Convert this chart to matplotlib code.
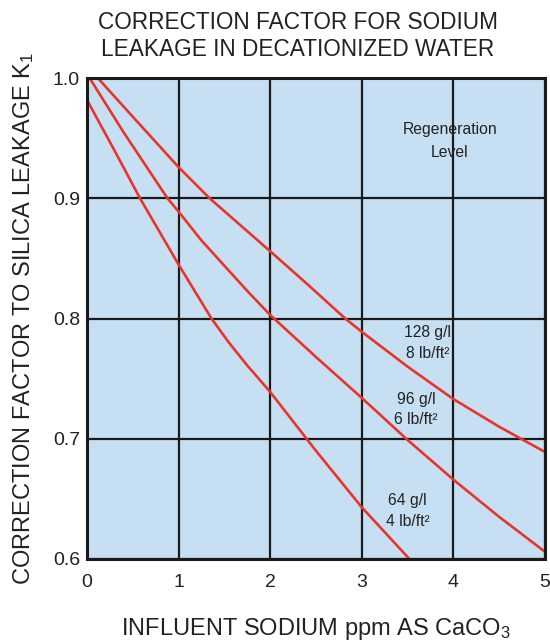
import matplotlib.pyplot as plt

plt.rcParams['font.family'] = ['Liberation Sans', 'DejaVu Sans']
plt.rcParams['mathtext.fontset'] = 'custom'
plt.rcParams['mathtext.rm'] = 'Liberation Sans'
plt.rcParams['mathtext.it'] = 'Liberation Sans'
plt.rcParams['mathtext.default'] = 'rm'

# curve data (influent sodium ppm, factor K1)
x_128 = [0.12, 0.44, 0.75, 1.0, 1.34, 1.7, 2.0, 2.4, 2.82, 3.0, 3.5, 4.0, 4.5, 5.0]
y_128 = [1.0, 0.973, 0.947, 0.926, 0.900, 0.876, 0.856, 0.829, 0.800, 0.789, 0.760, 0.733, 0.710, 0.689]

x_96 = [0.03, 0.4, 0.88, 1.0, 1.25, 1.5, 1.75, 2.0, 2.5, 3.0, 3.5, 4.0, 4.5, 5.0]
y_96 = [1.0, 0.955, 0.900, 0.889, 0.865, 0.844, 0.823, 0.803, 0.768, 0.734, 0.699, 0.666, 0.635, 0.606]

x_64 = [0.0, 0.3, 0.58, 1.0, 1.2, 1.36, 1.55, 1.75, 2.0, 2.5, 3.0, 3.52]
y_64 = [0.982, 0.940, 0.900, 0.845, 0.820, 0.800, 0.780, 0.761, 0.739, 0.690, 0.643, 0.600]

xticks = [0, 1, 2, 3, 4, 5]
yticks = [0.6, 0.7, 0.8, 0.9, 1.0]
ytick_labels = ['0.6', '0.7', '0.8', '0.9', '1.0']

red = '#e8352b'
bg = '#c7dff2'
ink = '#222222'

fig = plt.figure(figsize=(5.5, 6.42), dpi=100)
ax = fig.add_axes([0.158, 0.1293, 0.833, 0.749])
ax.set_facecolor(bg)

ax.plot(x_128, y_128, color=red, lw=1.9, zorder=3)
ax.plot(x_96, y_96, color=red, lw=1.9, zorder=3)
ax.plot(x_64, y_64, color=red, lw=1.9, zorder=3)

ax.set_xlim(0, 5)
ax.set_ylim(0.6, 1.0)
ax.set_xticks(xticks)
ax.set_yticks(yticks)
ax.set_yticklabels(ytick_labels)
ax.tick_params(length=0, labelsize=14, colors=ink)
ax.tick_params(axis='x', pad=11)
ax.tick_params(axis='y', pad=5)
ax.grid(True, color='#1a1a1a', lw=1.6, zorder=2)
ax.set_axisbelow(False)
for s in ax.spines.values():
    s.set_linewidth(2.2)
    s.set_color('#1a1a1a')
    s.set_zorder(4)

ax.set_title('CORRECTION FACTOR FOR SODIUM\nLEAKAGE IN DECATIONIZED WATER',
             fontsize=16.3, color=ink, pad=16, linespacing=1.2, x=0.46)
ax.set_xlabel('INFLUENT SODIUM ppm AS CaCO$_3$', fontsize=17, color=ink, labelpad=18)
ax.set_ylabel('CORRECTION FACTOR TO SILICA LEAKAGE K$_1$', fontsize=17, color=ink, labelpad=12)

txt = dict(fontsize=11.3, color=ink, ha='center', va='center', zorder=5)
ax.text(3.96, 0.957, 'Regeneration', **txt)
ax.text(3.96, 0.938, 'Level', **txt)
ax.text(3.72, 0.788, '128 g/l', **txt)
ax.text(3.72, 0.771, '8 lb/ft²', **txt)
ax.text(3.59, 0.733, '96 g/l', **txt)
ax.text(3.59, 0.716, '6 lb/ft²', **txt)
ax.text(3.50, 0.649, '64 g/l', **txt)
ax.text(3.50, 0.631, '4 lb/ft²', **txt)

fig.savefig('out.png', dpi=100)
